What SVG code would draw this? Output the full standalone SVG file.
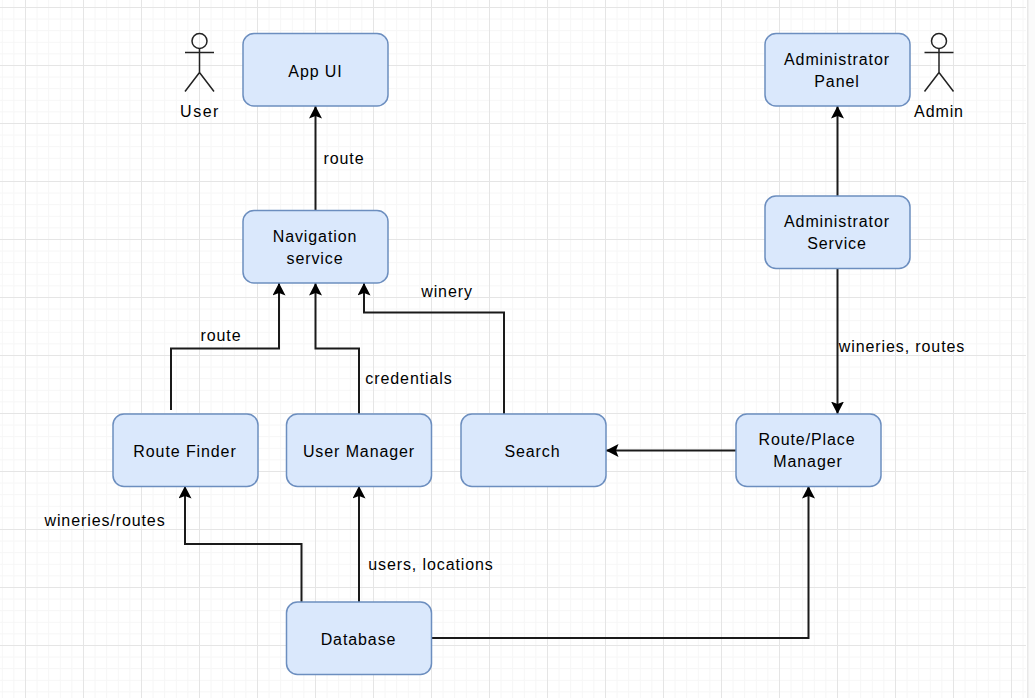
<svg xmlns="http://www.w3.org/2000/svg" width="1035" height="698" viewBox="0 0 1035 698">
<style>
.n{fill:#dae8fc;stroke:#6c8ebf;stroke-width:1.5}
text{font-family:"Liberation Sans",Arial,sans-serif;font-size:16px;fill:#000;text-anchor:middle;letter-spacing:.9px}
.c{fill:none;stroke:#1a1a1a;stroke-width:2}
.a{fill:none;stroke:#222;stroke-width:1.5}
</style>
<defs>
<pattern id="g" x="25" y="7" width="58" height="58" patternUnits="userSpaceOnUse">
<path d="M12.100 0V58M23.700 0V58M35.300 0V58M46.900 0V58M0 12.100H58M0 23.700H58M0 35.300H58M0 46.900H58" stroke="#f6f6f6" stroke-width="1" fill="none"/>
<path d="M.5 0V58M0 .5H58" stroke="#e5e5e5" stroke-width="1" fill="none"/>
</pattern>
<marker id="ah" markerUnits="userSpaceOnUse" markerWidth="14" markerHeight="14" refX="12.500" refY="6.500" orient="auto">
<path d="M0 0L12.500 6.500L0 13L2.500 6.500Z" fill="#000"/>
</marker>
</defs>
<rect width="1035" height="698" fill="#fff"/>
<rect width="1026" height="698" fill="url(#g)"/>
<rect x="1027" width="8" height="698" fill="#fafafa"/>
<rect x="1027" width="1.500" height="698" fill="#e8e8e8"/>
<g id="connectors">
<path class="c" marker-end="url(#ah)" d="M315.500 210V106"/>
<path class="c" marker-end="url(#ah)" d="M837.500 196V106"/>
<path class="c" marker-end="url(#ah)" d="M837.500 268V414"/>
<path class="c" marker-end="url(#ah)" d="M171 410V348.500H279V283"/>
<path class="c" marker-end="url(#ah)" d="M359 414V348.500H315.500V283"/>
<path class="c" marker-end="url(#ah)" d="M504 414V312.500H364V283"/>
<path class="c" marker-end="url(#ah)" d="M736 450.500H606"/>
<path class="c" marker-end="url(#ah)" d="M301.500 602V544H185V486"/>
<path class="c" marker-end="url(#ah)" d="M359 602V486"/>
<path class="c" marker-end="url(#ah)" d="M431 638H808.500V486"/>
</g>
<g id="user" class="a"><circle cx="199.500" cy="41" r="7.500"/><path d="M199.500 48.500V72.500M185 52.500H214M199.500 72.500L185 91.500M199.500 72.500L214 91.500"/></g>
<g id="admin" class="a"><circle cx="939" cy="41" r="7.500"/><path d="M939 48.500V72.500M924.500 52.500H953.500M939 72.500L924.500 91.500M939 72.500L953.500 91.500"/></g>
<g id="app-ui"><rect class="n" x="243" y="33.500" width="145" height="72.500" rx="11"/><text x="315.500" y="77">App UI</text></g>
<g id="navigation"><rect class="n" x="243" y="210.500" width="145" height="72.500" rx="11"/><text x="315" y="242">Navigation</text><text x="315" y="264">service</text></g>
<g id="route-finder"><rect class="n" x="113" y="414" width="145" height="72.500" rx="11"/><text x="185" y="457">Route Finder</text></g>
<g id="user-manager"><rect class="n" x="286.500" y="414" width="145" height="72.500" rx="11"/><text x="359" y="457">User Manager</text></g>
<g id="search"><rect class="n" x="461" y="414" width="145" height="72.500" rx="11"/><text x="532.500" y="457">Search</text></g>
<g id="route-place"><rect class="n" x="736" y="414" width="145" height="72.500" rx="11"/><text x="807" y="445">Route/Place</text><text x="808" y="467">Manager</text></g>
<g id="database"><rect class="n" x="286.500" y="602" width="145" height="72.500" rx="11"/><text x="358.500" y="645">Database</text></g>
<g id="admin-panel"><rect class="n" x="765" y="33.500" width="145" height="72.500" rx="11"/><text x="837" y="65">Administrator</text><text x="837" y="87">Panel</text></g>
<g id="admin-service"><rect class="n" x="765" y="196" width="145" height="72.500" rx="11"/><text x="837" y="227">Administrator</text><text x="837" y="249">Service</text></g>
<g id="labels">
<text x="200" y="117" style="letter-spacing:1.500px">User</text>
<text x="939" y="117">Admin</text>
<text x="344" y="164">route</text>
<text x="221" y="341">route</text>
<text x="447" y="297">winery</text>
<text x="409" y="384">credentials</text>
<text x="902" y="352">wineries, routes</text>
<text x="105" y="526">wineries/routes</text>
<text x="431" y="570">users, locations</text>
</g>
</svg>
